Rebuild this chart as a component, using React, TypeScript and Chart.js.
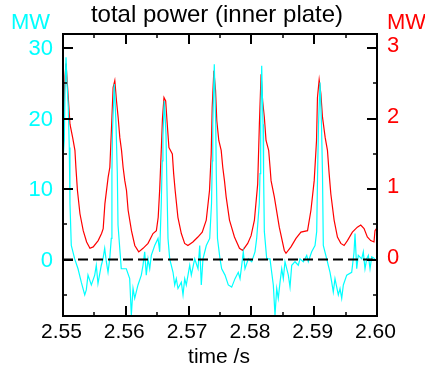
import React, { useEffect, useRef } from "react";
import { Chart, registerables } from "chart.js";

Chart.register(...registerables);

// ---- data ----
const cyanTime = [
  2.55, 2.55021, 2.55032, 2.55048, 2.55064, 2.55084, 2.551, 2.55111, 2.55132, 2.55186,
  2.55239, 2.55291, 2.55346, 2.55371, 2.55398, 2.55451, 2.55505, 2.5553, 2.55557, 2.5561,
  2.55637, 2.55664, 2.5569, 2.55717, 2.55744, 2.55769, 2.55779, 2.55788, 2.55817, 2.55844,
  2.55865, 2.55876, 2.55928, 2.56008, 2.56062, 2.56088, 2.56115, 2.56142, 2.56194, 2.56247,
  2.56274, 2.56301, 2.56326, 2.56354, 2.56381, 2.56406, 2.5646, 2.56513, 2.5654, 2.56565,
  2.5658, 2.56591, 2.56613, 2.5664, 2.56651, 2.56672, 2.56699, 2.56752, 2.56779, 2.56804,
  2.56831, 2.56884, 2.56911, 2.56938, 2.56963, 2.57018, 2.57043, 2.57097, 2.5715, 2.57177,
  2.57202, 2.57229, 2.57282, 2.57336, 2.57365, 2.57377, 2.57385, 2.57409, 2.57432, 2.57441,
  2.5746, 2.575, 2.57527, 2.5758, 2.57632, 2.57686, 2.57739, 2.57791, 2.57819, 2.57846,
  2.57871, 2.57898, 2.57951, 2.58005, 2.58057, 2.58084, 2.58126, 2.58137, 2.58148, 2.58164,
  2.58185, 2.58194, 2.58206, 2.58244, 2.58296, 2.58323, 2.58349, 2.58376, 2.58403, 2.58428,
  2.58456, 2.58483, 2.58508, 2.58535, 2.58588, 2.58615, 2.58642, 2.58694, 2.58747, 2.58774,
  2.58827, 2.58881, 2.58906, 2.5896, 2.59013, 2.5904, 2.59054, 2.59069, 2.59093, 2.59116,
  2.59132, 2.59145, 2.59199, 2.59252, 2.59279, 2.59304, 2.59331, 2.59384, 2.59411, 2.59438,
  2.59464, 2.59518, 2.59597, 2.59634, 2.5965, 2.59677, 2.59702, 2.59757, 2.59782, 2.59809,
  2.59836, 2.59862, 2.59889, 2.59916, 2.59968,
];
const cyanMW = [
  14, 17, 24, 28.7, 25, 21.6, 15.9, 8, 2.0, 0.1,
  -1.3, -3.2, -5.0, -4.3, -2.2, -3.6, -2.2, -0.8, -3.4, -0.8,
  0.1, 1.6, -0.3, -1.8, 0.1, 3.0, 12.2, 18.3, 24.9, 19.2,
  12.2, 4.9, -1.3, -1.3, -2.7, -7.9, -4.1, -5.5, -3.6, -2.2,
  -0.8, 1.1, -2.2, 0.1, -1.3, 0.6, 2.0, 3.0, 1.1, 8,
  14, 17.5, 22.5, 17.8, 12.2, 3.0, 0.1, -1.8, -3.6, -2.7,
  -4.1, -3.2, -5.0, -2.7, -3.6, -0.8, -2.2, 0.1, -1.3, 2.0,
  -3.6, 0.1, 2.0, 3.0, 8, 14, 19.2, 27.7, 19.2, 12.2,
  3, 0.1, -1.3, -2.2, -3.6, -3.9, -2.7, -1.8, -2.7, -0.8,
  1.1, -1.3, 0.1, -0.3, 1.1, 3.0, 8, 12.2, 19.2, 27.5,
  19.2, 12.2, 4, 0.1, 0.1, -1.8, -3.6, -7.9, -4.1, -5.5,
  -3.2, -1.3, -2.7, -0.3, -2.2, -3.9, -0.8, -0.3, -0.8, 0.1,
  -0.3, 0.6, -0.3, 1.1, 2.0, 4, 12.2, 19.2, 25.1, 19.2,
  12.2, 2.0, 0.1, -1.8, -3.2, -4.6, -2.7, -5.0, -4.1, -5.5,
  -3.6, -2.2, -1.8, 1.0, 3.7, -1.3, 0.6, 0.1, 1.1, -1.3,
  0.1, 0.6, -1.3, 0.4, 0.1,
];

const redTime = [
  2.55, 2.55016, 2.55032, 2.55048, 2.55084, 2.55111, 2.55154, 2.5519, 2.55206, 2.5523,
  2.5527, 2.55322, 2.55376, 2.55429, 2.55481, 2.5556, 2.55614, 2.5564, 2.55667, 2.55719,
  2.55746, 2.55773, 2.55798, 2.55825, 2.55852, 2.55878, 2.55905, 2.55932, 2.55957, 2.55984,
  2.56011, 2.56037, 2.5609, 2.56143, 2.56206, 2.56275, 2.56354, 2.56433, 2.56487, 2.56516,
  2.5654, 2.56567, 2.56584, 2.56608, 2.56635, 2.56656, 2.56687, 2.56741, 2.56762, 2.56786,
  2.5683, 2.56884, 2.56937, 2.56989, 2.57068, 2.57148, 2.57217, 2.57281, 2.57333, 2.5736,
  2.57376, 2.57402, 2.57429, 2.57449, 2.57481, 2.57519, 2.57544, 2.57571, 2.57598, 2.57651,
  2.5773, 2.5781, 2.57862, 2.57941, 2.57995, 2.58048, 2.581, 2.58127, 2.58154, 2.58179,
  2.58206, 2.58233, 2.58275, 2.58297, 2.58313, 2.58365, 2.58444, 2.58524, 2.58551, 2.5863,
  2.5871, 2.58789, 2.58894, 2.58948, 2.59, 2.59037, 2.59052, 2.59079, 2.59106, 2.59132,
  2.59175, 2.59211, 2.59238, 2.59265, 2.59317, 2.5937, 2.59424, 2.59476, 2.59529, 2.59608,
  2.59687, 2.59741, 2.59794, 2.59846, 2.599, 2.59952, 2.59968, 2.6,
];
const redMW = [
  1.73, 2.2, 2.6, 2.78, 2.3, 1.92, 1.73, 1.55, 1.3, 0.98,
  0.65, 0.41, 0.25, 0.16, 0.18, 0.27, 0.37, 0.44, 0.79, 1.17,
  1.31, 1.88, 2.44, 2.54, 2.25, 2.02, 1.73, 1.55, 1.31, 1.12,
  0.98, 0.7, 0.41, 0.2, 0.11, 0.16, 0.23, 0.37, 0.41, 0.6,
  1.0, 1.6, 2.0, 2.3, 2.25, 1.97, 1.59, 1.5, 1.22, 0.98,
  0.6, 0.37, 0.23, 0.2, 0.25, 0.32, 0.39, 0.56, 0.98, 1.5,
  2.16, 2.68, 2.4, 1.97, 1.69, 1.55, 1.31, 1.12, 0.89, 0.56,
  0.32, 0.16, 0.13, 0.23, 0.34, 0.56, 1.07, 1.92, 2.63, 2.25,
  2.02, 1.69, 1.55, 1.31, 1.12, 0.89, 0.46, 0.13, 0.09, 0.18,
  0.3, 0.39, 0.41, 0.7, 1.12, 1.69, 2.3, 2.55, 2.35, 2.02,
  1.73, 1.55, 1.22, 0.93, 0.56, 0.32, 0.23, 0.2, 0.27, 0.39,
  0.46, 0.49, 0.44, 0.32, 0.27, 0.25, 0.41, 0.45,
];

const zeroTime = [2.55, 2.6];
const zeroLevel = [0, 0];

const xMajorTicks = [2.55, 2.56, 2.57, 2.58, 2.59, 2.6];
const xTickLabels = ["2.55", "2.56", "2.57", "2.58", "2.59", "2.60"];
const xMinorTicks = [2.555, 2.565, 2.575, 2.585, 2.595];
const leftMajorTicks = [0, 10, 20, 30];
const leftTickLabels = ["0", "10", "20", "30"];
const leftMinorTicks = [-5, 5, 15, 25];
const rightMajorTicks = [0, 1, 2, 3];
const rightTickLabels = ["0", "1", "2", "3"];
const rightMinorTicks = [-0.5, 0.5, 1.5, 2.5];

const TITLE = "total power (inner plate)";
const X_TITLE = "time /s";
const UNIT = "MW";

const CYAN = "#00FFFF";
const RED = "#FF0000";
const FONT = "'Liberation Sans', Arial, Helvetica, sans-serif";

const framePlugin = {
  id: "frame",
  afterDraw(chart: any) {
    const { ctx, chartArea: a, scales } = chart;
    const sx = scales.x, yl = scales.y, yr = scales.y2;
    ctx.save();
    ctx.strokeStyle = "#000";
    ctx.lineWidth = 2;
    ctx.strokeRect(a.left, a.top, a.right - a.left, a.bottom - a.top);

    const line = (x1: number, y1: number, x2: number, y2: number, w: number) => {
      ctx.lineWidth = w;
      ctx.beginPath();
      ctx.moveTo(x1, y1);
      ctx.lineTo(x2, y2);
      ctx.stroke();
    };
    const MAJ = 10, MIN = 4;
    xMajorTicks.forEach((v) => {
      const p = Math.round(sx.getPixelForValue(v));
      line(p, a.bottom, p, a.bottom - MAJ, 2);
      line(p, a.top, p, a.top + MAJ, 2);
    });
    xMinorTicks.forEach((v) => {
      const p = Math.round(sx.getPixelForValue(v));
      line(p, a.bottom, p, a.bottom - MIN, 1.5);
      line(p, a.top, p, a.top + MIN, 1.5);
    });
    leftMajorTicks.forEach((v) => {
      const p = Math.round(yl.getPixelForValue(v));
      line(a.left, p, a.left + MAJ, p, 2);
    });
    leftMinorTicks.forEach((v) => {
      const p = Math.round(yl.getPixelForValue(v));
      line(a.left, p, a.left + MIN, p, 1.5);
    });
    rightMajorTicks.forEach((v) => {
      const p = Math.round(yr.getPixelForValue(v));
      line(a.right, p, a.right - MAJ, p, 2);
    });
    rightMinorTicks.forEach((v) => {
      const p = Math.round(yr.getPixelForValue(v));
      line(a.right, p, a.right - MIN, p, 1.5);
    });

    ctx.textBaseline = "alphabetic";
    // title
    ctx.fillStyle = "#000";
    ctx.font = `24px ${FONT}`;
    ctx.textAlign = "center";
    ctx.fillText(TITLE, 217, 22);
    // x labels
    ctx.font = `21px ${FONT}`;
    xMajorTicks.forEach((v, i) => {
      const p = sx.getPixelForValue(v);
      ctx.fillText(xTickLabels[i], p - 1.5, 338);
    });
    ctx.fillText(X_TITLE, 219, 363);
    // left labels
    ctx.font = `22px ${FONT}`;
    ctx.fillStyle = CYAN;
    ctx.textAlign = "right";
    leftMajorTicks.forEach((v, i) => {
      const p = yl.getPixelForValue(v);
      ctx.fillText(leftTickLabels[i], 53, p + 7);
    });
    ctx.textAlign = "left";
    ctx.fillText(UNIT, 11, 29);
    // right labels
    ctx.fillStyle = RED;
    rightMajorTicks.forEach((v, i) => {
      const p = yr.getPixelForValue(v);
      ctx.fillText(rightTickLabels[i], 387, p + 4);
    });
    ctx.fillText(UNIT, 387, 29);
    ctx.restore();
  },
};

export default function App() {
  const ref = useRef<HTMLCanvasElement | null>(null);
  useEffect(() => {
    if (!ref.current) return;
    const hidden = {
      display: false,
      ticks: { display: false },
      grid: { display: false, drawTicks: false },
      border: { display: false },
    };
    const chart = new Chart(ref.current, {
      type: "line",
      data: {
        datasets: [
          {
            label: "zero",
            data: zeroTime.map((t, i) => ({ x: t, y: zeroLevel[i] })),
            borderColor: "#000",
            borderWidth: 2,
            borderDash: [10, 5],
            pointRadius: 0,
            yAxisID: "y",
            order: 0,
          },
          {
            label: "inner MW",
            data: cyanTime.map((t, i) => ({ x: t, y: cyanMW[i] })),
            borderColor: CYAN,
            borderWidth: 1.2,
            pointRadius: 0,
            tension: 0,
            yAxisID: "y",
            order: 1,
          },
          {
            label: "inner MW (right)",
            data: redTime.map((t, i) => ({ x: t, y: redMW[i] })),
            borderColor: RED,
            borderWidth: 1.2,
            pointRadius: 0,
            tension: 0,
            yAxisID: "y2",
            order: 2,
          },
        ],
      },
      options: {
        responsive: false,
        animation: false,
        layout: { padding: { left: 63, right: 48, top: 34, bottom: 57 } },
        plugins: { legend: { display: false }, tooltip: { enabled: false }, title: { display: false } },
        scales: {
          x: { type: "linear", min: 2.55, max: 2.6, ...hidden },
          y: { type: "linear", position: "left", min: -8, max: 32, ...hidden },
          y2: { type: "linear", position: "right", min: -0.8, max: 3.2, ...hidden },
        },
      } as any,
      plugins: [framePlugin],
    });
    return () => chart.destroy();
  }, []);
  return (
    <div style={{ position: "fixed", left: 0, top: 0, width: 425, height: 373, background: "#fff" }}>
      <canvas ref={ref} width={425} height={373} style={{ display: "block", width: 425, height: 373 }} />
    </div>
  );
}
